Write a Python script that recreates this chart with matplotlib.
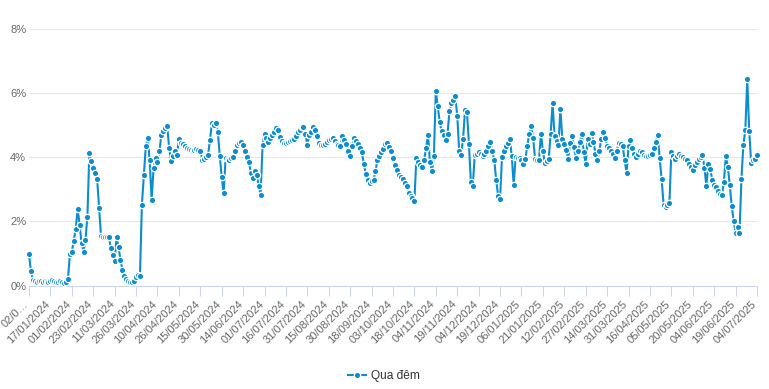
import matplotlib

matplotlib.use("Agg")
import matplotlib.pyplot as plt
from matplotlib.ticker import FuncFormatter

plt.rcParams["font.family"] = ["Liberation Sans", "DejaVu Sans"]

# Lãi suất qua đêm (%), một điểm mỗi phiên, 02/01/2024 -> 04/07/2025
overnight = [
    0.97, 0.45, 0.18, 0.15, 0.12, 0.13, 0.14, 0.12, 0.15, 0.13,
    0.12, 0.14, 0.16, 0.13, 0.12, 0.11, 0.14, 0.10, 0.08, 0.10,
    0.19, 0.97, 1.06, 1.39, 1.76, 2.38, 1.90, 1.32, 1.06, 1.42,
    2.15, 4.13, 3.87, 3.66, 3.50, 3.32, 2.43, 1.53, 1.50, 1.50,
    1.50, 1.52, 1.18, 0.95, 0.77, 1.50, 1.20, 0.80, 0.48, 0.30,
    0.20, 0.13, 0.12, 0.10, 0.15, 0.25, 0.33, 0.30, 2.52, 3.45,
    4.34, 4.60, 3.90, 2.67, 3.66, 3.97, 3.86, 4.18, 4.70, 4.82,
    4.90, 4.96, 4.30, 3.87, 4.05, 4.20, 4.08, 4.58, 4.45, 4.40,
    4.35, 4.30, 4.25, 4.22, 4.20, 4.22, 4.25, 4.22, 4.20, 3.92,
    3.95, 4.00, 4.08, 4.55, 5.08, 5.00, 5.08, 4.80, 4.05, 3.38,
    2.88, 3.97, 3.95, 3.92, 3.97, 4.00, 4.20, 4.39, 4.44, 4.49,
    4.37, 4.21, 4.00, 3.85, 3.50, 3.35, 3.56, 3.45, 3.10, 2.83,
    4.38, 4.74, 4.60, 4.48, 4.60, 4.68, 4.80, 4.90, 4.86, 4.62,
    4.50, 4.44, 4.44, 4.49, 4.50, 4.55, 4.58, 4.65, 4.78, 4.85,
    4.93, 4.93, 4.74, 4.38, 4.68, 4.80, 4.93, 4.86, 4.65, 4.45,
    4.38, 4.37, 4.42, 4.49, 4.55, 4.58, 4.60, 4.50, 4.42, 4.38,
    4.36, 4.65, 4.55, 4.42, 4.20, 4.03, 4.36, 4.60, 4.52, 4.42,
    4.30, 4.15, 3.80, 3.48, 3.30, 3.21, 3.25, 3.30, 3.56, 3.92,
    4.05, 4.15, 4.25, 4.40, 4.46, 4.32, 4.18, 3.97, 3.77, 3.59,
    3.45, 3.38, 3.32, 3.21, 3.11, 2.90, 2.78, 2.72, 2.65, 3.97,
    3.85, 3.75, 3.69, 3.90, 4.30, 4.70, 3.84, 3.56, 4.05, 6.06,
    5.59, 5.10, 4.81, 4.70, 4.55, 4.73, 5.43, 5.69, 5.80, 5.90,
    5.30, 4.21, 4.08, 4.58, 5.46, 5.41, 4.42, 3.24, 3.11, 4.08,
    4.10, 4.15, 4.10, 4.05, 4.10, 4.18, 4.35, 4.49, 4.20, 3.92,
    3.30, 2.80, 2.70, 4.00, 4.20, 4.34, 4.45, 4.58, 4.05, 3.14,
    4.00, 3.98, 3.97, 3.90, 3.80, 3.94, 4.36, 4.73, 4.96, 4.60,
    3.94, 3.92, 3.90, 4.74, 4.20, 3.82, 3.88, 3.94, 4.74, 5.69,
    4.65, 4.50, 4.39, 5.50, 4.57, 4.40, 4.23, 3.94, 4.46, 4.65,
    4.32, 3.97, 4.20, 4.49, 4.73, 4.15, 3.80, 4.57, 4.40, 4.77,
    4.49, 4.10, 3.90, 4.21, 4.57, 4.80, 4.60, 4.36, 4.28, 4.18,
    4.10, 3.97, 4.20, 4.46, 4.40, 4.36, 3.90, 3.52, 4.34, 4.55,
    4.30, 4.10, 4.00, 4.10, 4.21, 4.15, 4.08, 4.05, 4.05, 4.08,
    4.11, 4.30, 4.49, 4.70, 3.97, 3.32, 2.52, 2.45, 2.50, 2.57,
    4.15, 4.05, 3.94, 4.05, 4.10, 4.05, 4.00, 3.94, 3.90, 3.80,
    3.70, 3.61, 3.75, 3.85, 3.94, 4.00, 4.08, 3.66, 3.11, 3.79,
    3.63, 3.30, 3.15, 3.07, 2.95, 2.85, 2.83, 3.24, 4.05, 3.71,
    3.14, 2.48, 2.02, 1.65, 1.84, 1.63, 3.32, 4.39, 4.84, 6.44,
    4.83, 3.82, 3.90, 3.95, 4.08,
]

# nhãn trục x, mỗi 11 phiên một nhãn
tick_labels = [
    "02/0…", "17/01/2024", "01/02/2024", "23/02/2024", "11/03/2024",
    "26/03/2024", "10/04/2024", "26/04/2024", "15/05/2024", "30/05/2024",
    "14/06/2024", "01/07/2024", "16/07/2024", "31/07/2024", "15/08/2024",
    "30/08/2024", "18/09/2024", "03/10/2024", "18/10/2024", "04/11/2024",
    "19/11/2024", "04/12/2024", "19/12/2024", "06/01/2025", "21/01/2025",
    "12/02/2025", "27/02/2025", "14/03/2025", "31/03/2025", "16/04/2025",
    "05/05/2025", "20/05/2025", "04/06/2025", "19/06/2025", "04/07/2025",
]
tick_step = 11
y_ticks = [0, 2, 4, 6, 8]
series_name = "Qua đêm"

BLUE = "#0c8dcf"
AXIS = "#ccd6eb"
GRID = "#e6e6e6"
LABEL = "#666666"

fig = plt.figure(figsize=(7.69, 3.89), dpi=100)
ax = fig.add_axes([29 / 769, 103.5 / 389, 728 / 769, 256.5 / 389])

x = list(range(len(overnight)))
ax.plot(
    x, overnight,
    color=BLUE, linewidth=1.5,
    marker="o", markersize=4.6,
    markerfacecolor=BLUE, markeredgecolor="white", markeredgewidth=0.9,
    clip_on=False, zorder=3, label=series_name,
)

ax.set_xlim(0, len(overnight) - 1)
ax.set_ylim(0, 8)

ax.set_yticks(y_ticks)
ax.yaxis.set_major_formatter(FuncFormatter(lambda v, _: f"{v:.0f}%"))
ax.grid(axis="y", color=GRID, linewidth=0.8)
ax.set_axisbelow(True)
ax.tick_params(axis="y", length=0, pad=2, labelsize=8, labelcolor=LABEL)

ax.set_xticks([i * tick_step for i in range(len(tick_labels))])
ax.set_xticklabels(tick_labels)
ax.tick_params(axis="x", length=7.2, width=0.75, color=AXIS, pad=6.5,
               labelsize=8, labelcolor=LABEL)
plt.setp(ax.get_xticklabels(), rotation=45, ha="right", va="baseline",
         rotation_mode="anchor")

for side in ("top", "right", "left"):
    ax.spines[side].set_visible(False)
ax.spines["bottom"].set_color(AXIS)
ax.spines["bottom"].set_linewidth(0.75)

leg = fig.legend(
    loc="center", bbox_to_anchor=(384 / 769, 1 - 376 / 389),
    frameon=False, fontsize=8.6, handlelength=1.5, handletextpad=0.4,
)
for t in leg.get_texts():
    t.set_color("#333333")

fig.savefig("out.png", dpi=100)
plt.close(fig)
